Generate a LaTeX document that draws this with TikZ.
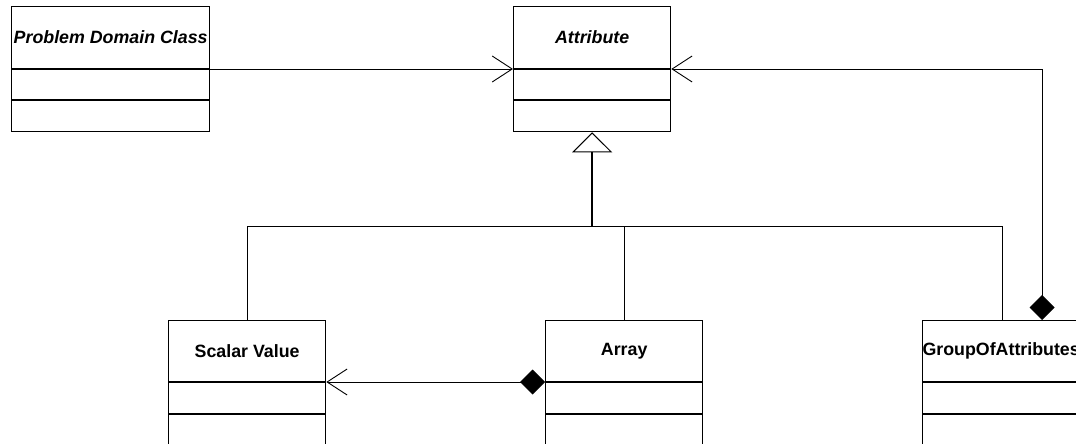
\documentclass[tikz,border=0pt]{standalone}
\usepackage{fontspec}
\setmainfont{Liberation Sans}
\usetikzlibrary{arrows.meta,calc}

\tikzset{
  classbox/.style={draw, line width=1.3pt, rectangle, anchor=north west, inner sep=0pt},
  topclass/.style={classbox, minimum width=#1, minimum height=125pt},
  lowclass/.style={classbox, minimum width=#1, minimum height=170pt},
  compart/.style={line width=1.3pt},
  classname/.style={font=\fontsize{17.8}{20}\selectfont\bfseries, inner sep=0pt},
  abstractname/.style={classname, font=\fontsize{17.8}{20}\selectfont\bfseries\itshape},
  conn/.style={line width=0.9pt},
  assoc/.style={conn, -{Straight Barb[length=20pt, width=26pt, line width=0.9pt]}},
  compo/.style={conn, {Diamond[length=25pt, width=25pt, fill=black]}-{Straight Barb[length=20pt, width=26pt, line width=0.9pt]}},
  inherit/.style={line width=1.8pt, -{Triangle[open, length=20pt, width=40pt, line width=1pt, fill=white]}}
}

\begin{document}
\begin{tikzpicture}[x=1pt, y=-1pt]
  \useasboundingbox (0,0) rectangle (1076,444);
  \clip (0,0) rectangle (1076,444);

  % class boxes
  \node[topclass=198pt] (pdc)    at (11,6)   {};
  \node[topclass=157pt] (attr)   at (513,6)  {};
  \node[lowclass=157pt] (scalar) at (168,320) {};
  \node[lowclass=157pt] (array)  at (545,320) {};
  \node[lowclass=157pt] (group)  at (922,320) {};

  % compartment separators
  \foreach \c/\t/\a in {pdc/63/94, attr/63/94, scalar/62/94, array/62/94, group/62/94} {
    \draw[compart] ($(\c.north west)+(0,\t)$) -- ($(\c.north east)+(0,\t)$);
    \draw[compart] ($(\c.north west)+(0,\a)$) -- ($(\c.north east)+(0,\a)$);
  }

  % class names
  \node[abstractname] (pdc-t)    at ($(pdc.north)+(0,31.5)$)    {Problem Domain Class};
  \node[abstractname] (attr-t)   at ($(attr.north)+(0,31.5)$)   {Attribute};
  \node[classname]    (scalar-t) at ($(scalar.north)+(0,31)$)   {Scalar Value};
  \node[classname]    (array-t)  at ($(array.north)+(0,31)$)    {Array};
  \node[classname]    (group-t)  at ($(group.north)+(0,31)$)    {GroupOfAttributes};

  % attachment points
  \coordinate (pdc-r)    at ($(pdc.north east)+(0,63)$);
  \coordinate (attr-l)   at ($(attr.north west)+(0,63)$);
  \coordinate (attr-r)   at ($(attr.north east)+(0,63)$);
  \coordinate (scalar-r) at ($(scalar.north east)+(0,62)$);
  \coordinate (array-l)  at ($(array.north west)+(0,62)$);
  \coordinate (group-g)  at ($(group.north west)+(80,0)$);
  \coordinate (group-c)  at ($(group.north west)+(120,0)$);
  \coordinate (bus)      at (0,226);

  % associations
  \draw[assoc] (pdc-r) -- (attr-l);
  \draw[compo] (array-l) -- (scalar-r);
  \draw[compo] (group-c) |- (attr-r);

  % generalization tree
  \draw[conn] (scalar.north) -- (scalar.north |- bus) -- (group-g |- bus) -- (group-g);
  \draw[conn] (array.north) -- (array.north |- bus);
  \draw[inherit] (attr.south |- bus) -- (attr.south);
\end{tikzpicture}
\end{document}
